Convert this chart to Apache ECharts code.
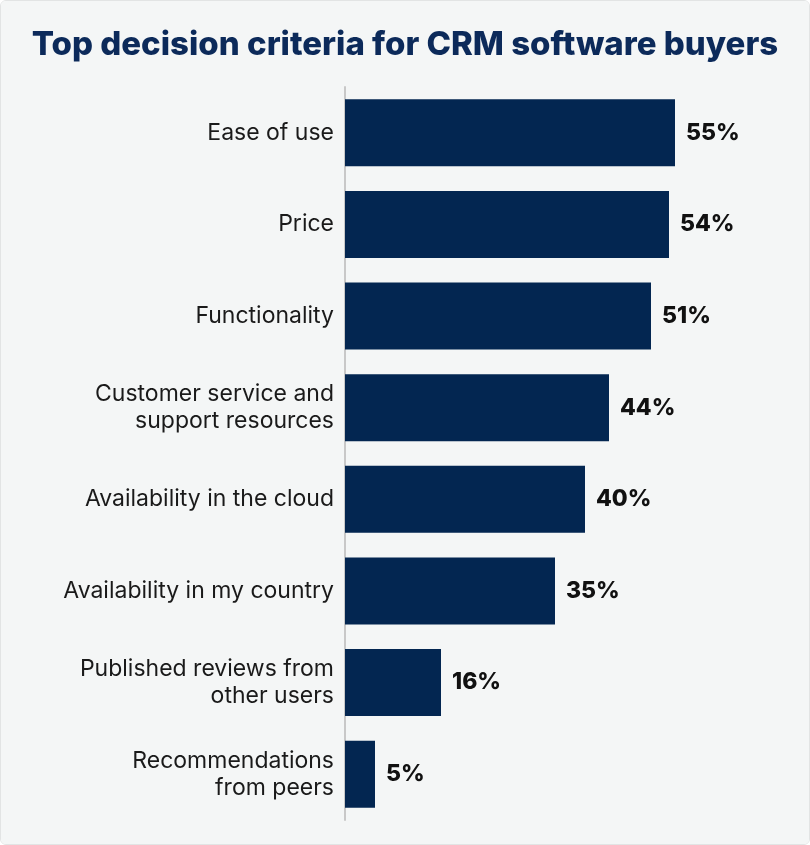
<!DOCTYPE html>
<html><head><meta charset="utf-8">
<script src="https://cdn.jsdelivr.net/npm/echarts@6/dist/echarts.min.js"></script>
<style>
html,body{margin:0;padding:0;background:#fff;}
#c{width:808px;height:843px;border:1px solid #e2e4e4;border-radius:6px;overflow:hidden;}
</style></head>
<body><div id="c"></div>
<script>
const categories = ["Ease of use","Price","Functionality","Customer service and\nsupport resources","Availability in the cloud","Availability in my country","Published reviews from\nother users","Recommendations\nfrom peers"];
const values = [55,54,51,44,40,35,16,5];
const chart = echarts.init(document.getElementById('c'));
chart.setOption({
  backgroundColor:'#f4f6f6',
  title:{text:'Top decision criteria for CRM software buyers',left:'center',top:23,
    textStyle:{fontFamily:'Inter',fontWeight:800,fontSize:33,color:'#0c2a5a'}},
  grid:{left:344,right:44,top:86,bottom:24,containLabel:false},
  xAxis:{type:'value',min:0,max:70,show:false},
  yAxis:{type:'category',data:categories,inverse:true,
    axisLine:{show:true,lineStyle:{color:'#c8c8c8',width:2}},
    axisTick:{show:false},
    axisLabel:{margin:11,fontFamily:'Inter',fontSize:23,color:'#1a1a1a',lineHeight:27,align:'right'}},
  series:[{type:'bar',data:values,barWidth:67,itemStyle:{color:'#032651'},
    label:{show:true,position:'right',distance:11,formatter:'{c}%',fontFamily:'Inter',fontWeight:800,fontSize:23,color:'#111'}}],
  animation:false
});
</script></body></html>
